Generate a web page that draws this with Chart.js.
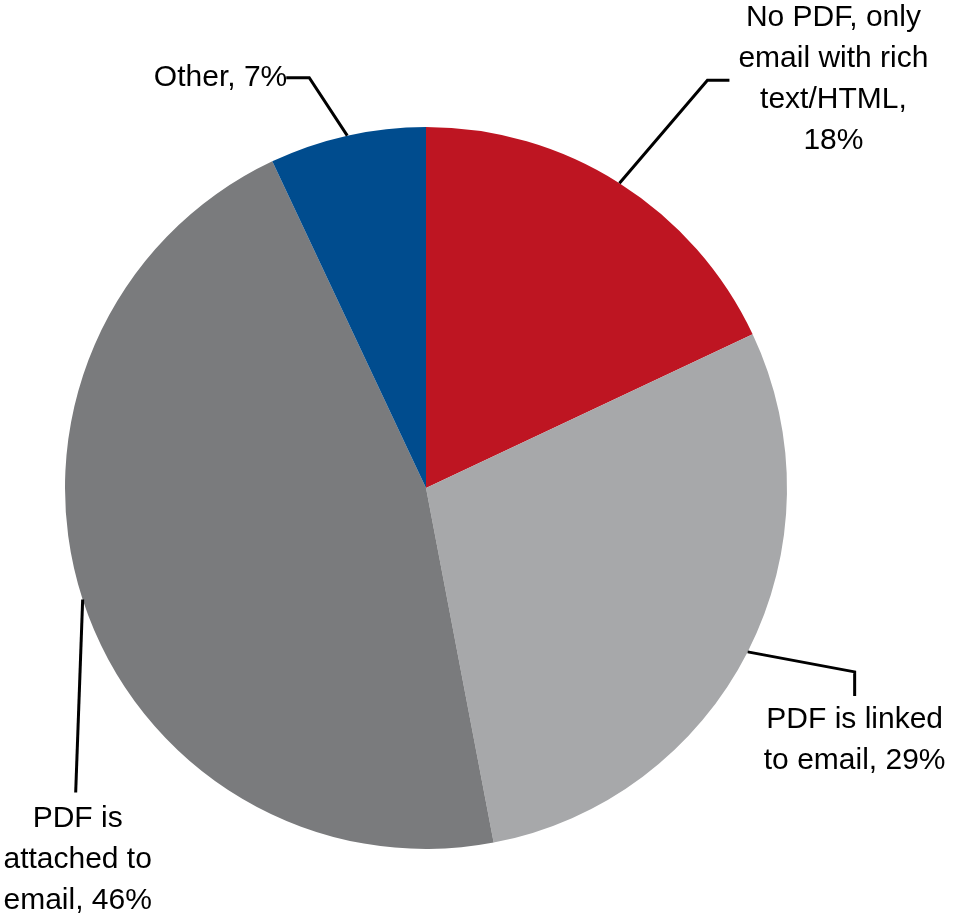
<!DOCTYPE html>
<html>
<head>
<meta charset="utf-8">
<script src="https://cdn.jsdelivr.net/npm/chart.js@4/dist/chart.umd.min.js"></script>
<style>
  body { margin: 0; background: #fff; }
  canvas { display: block; }
</style>
</head>
<body>
<canvas id="pie" width="957" height="914"></canvas>
<script>
// Data
var categories = ['No PDF, only email with rich text/HTML', 'PDF is linked to email', 'PDF is attached to email', 'Other'];
var shares = [18, 29, 46, 7];
var sliceColors = ['#BE1522', '#A7A8AA', '#7A7B7D', '#004C8E'];
// label wording, {v} gets the share
var labelLines = [
    ['No PDF, only', 'email with rich', 'text/HTML,', '{v}%'],
    ['PDF is linked', 'to email, {v}%'],
    ['PDF is', 'attached to', 'email, {v}%'],
    ['Other, {v}%']
];

// leader lines: offsets from the point on the rim (middle of the slice)
var leaders = [
    { elbow: [88, -103], end: [110, -103], text: [104, -62], align: 'center' },
    { elbow: [107, 20], end: [107, 44], text: [0, 24], align: 'center' },
    { elbow: [-7, 193], end: [-7, 193], text: [2, 26], align: 'center' },
    { elbow: [-38, -58], end: [-61, -58], text: [1, 0], align: 'right' }
];

var leaderPlugin = {
    id: 'leaderLabels',
    afterDatasetsDraw: function(chart) {
        var ctx = chart.ctx;
        var arcs = chart.getDatasetMeta(0).data;
        ctx.save();
        ctx.strokeStyle = '#000';
        ctx.lineWidth = 3;
        ctx.fillStyle = '#000';
        ctx.font = '30px "Liberation Sans", Arial, sans-serif';
        ctx.textBaseline = 'middle';
        for (var i = 0; i < arcs.length; i++) {
            var a = arcs[i];
            var mid = (a.startAngle + a.endAngle) / 2;
            var px = a.x + Math.cos(mid) * a.outerRadius;
            var py = a.y + Math.sin(mid) * a.outerRadius;
            var l = leaders[i];
            ctx.beginPath();
            ctx.moveTo(px, py);
            ctx.lineTo(px + l.elbow[0], py + l.elbow[1]);
            ctx.lineTo(px + l.end[0], py + l.end[1]);
            ctx.stroke();
            ctx.textAlign = l.align;
            var tx = px + l.end[0] + l.text[0];
            var ty = py + l.end[1] + l.text[1];
            var lines = labelLines[i];
            for (var j = 0; j < lines.length; j++) {
                ctx.fillText(lines[j].replace('{v}', shares[i]), tx, ty + j * 41);
            }
        }
        ctx.restore();
    }
};

new Chart(document.getElementById('pie').getContext('2d'), {
    type: 'pie',
    data: {
        labels: categories,
        datasets: [{
            data: shares,
            backgroundColor: sliceColors,
            borderWidth: 0
        }]
    },
    options: {
        responsive: false,
        animation: false,
        layout: {
            padding: { left: 65, right: 170, top: 127, bottom: 65 }
        },
        plugins: {
            legend: { display: false },
            tooltip: { enabled: false }
        }
    },
    plugins: [leaderPlugin]
});
</script>
</body>
</html>
